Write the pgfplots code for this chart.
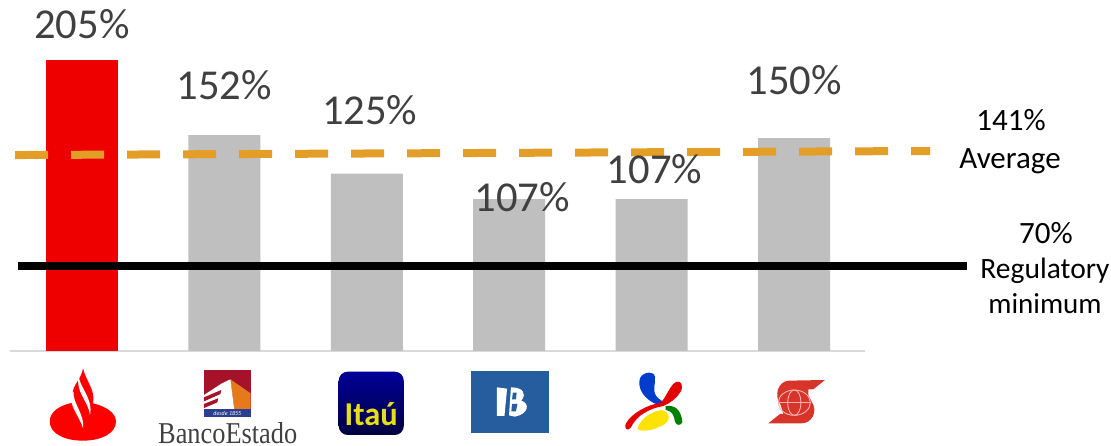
\documentclass[border=0pt]{standalone}
\usepackage{fontspec}
\setmainfont{Carlito}
\newfontfamily\logoserif{Liberation Serif}
\usepackage{pgfplots}
\pgfplotsset{compat=1.18}
\definecolor{barred}{HTML}{EE0000}
\definecolor{bargrey}{HTML}{BFBFBF}
\definecolor{avgor}{HTML}{E39E27}
\definecolor{labgrey}{HTML}{404040}
\definecolor{chileblue}{HTML}{265D9F}
\definecolor{bedred}{HTML}{A5122A}
\definecolor{bedor}{HTML}{E57A1C}
\definecolor{bedblue}{HTML}{2B3F8E}
\definecolor{scotia}{HTML}{D8352A}
\begin{document}
\begin{tikzpicture}
\path[use as bounding box] (0,0) rectangle (1111pt,446pt);
\begin{axis}[
  at={(0,0)},anchor=south west,
  scale only axis,width=1111pt,height=446pt,
  hide axis,clip=false,
  xmin=-0.5758,xmax=7.226,ymin=-66.9,ymax=247.2]
\addplot[draw=black!15!white,line width=2pt] coordinates {(-0.506,0) (5.5,0)};
\addplot[ybar,bar width=72pt,bar shift=0pt,fill=barred,draw=none] coordinates {(0,205)};
\addplot[ybar,bar width=72pt,bar shift=0pt,fill=bargrey,draw=none] coordinates {(1,152) (2,125) (3,107) (4,107) (5,150)};
\addplot[avgor,line width=8pt,dash pattern=on 33pt off 23pt] coordinates {(-0.47,138.0) (5.955,140.85)};
\addplot[black,line width=8pt] coordinates {(-0.449,59.9) (6.215,59.9)};
\node[anchor=base,text=labgrey,font=\fontsize{42.6}{44}\selectfont] at (axis cs:0,220.4) {205\%};
\node[anchor=base,text=labgrey,font=\fontsize{42.6}{44}\selectfont] at (axis cs:1,176.8) {152\%};
\node[anchor=base,text=labgrey,font=\fontsize{42.6}{44}\selectfont] at (axis cs:2.02,159.2) {125\%};
\node[anchor=base,text=labgrey,font=\fontsize{42.6}{44}\selectfont] at (axis cs:3.09,97.9) {107\%};
\node[anchor=base,text=labgrey,font=\fontsize{42.6}{44}\selectfont] at (axis cs:4.02,118.3) {107\%};
\node[anchor=base,text=labgrey,font=\fontsize{42.6}{44}\selectfont] at (axis cs:5,180.3) {150\%};
\end{axis}
% right-hand annotations, pixel coordinates
\begin{scope}[x=1pt,y=-1pt,yshift=446pt,every node/.style={anchor=base,text=black,font=\fontsize{31}{33}\selectfont,inner sep=0pt}]
\node at (1011,131) {141\%};
\node at (1010,169) {Average};
\node at (1046,244) {70\%};
\node[font=\fontsize{29.5}{33}\selectfont] at (1045,279) {Regulatory};
\node[font=\fontsize{29}{33}\selectfont] at (1045,314) {minimum};
\end{scope}
% logos, first four
\begin{scope}[x=1pt/2.613,y=-1pt/3,yshift=106pt]
% Santander
\fill[red] (130,245) .. controls (130,212) and (160,195) .. (190,188) -- (190,165)
  .. controls (188,135) and (212,120) .. (217,85) .. controls (225,125) and (250,150) .. (243,190)
  .. controls (280,200) and (303,220) .. (303,245) .. controls (303,280) and (265,302) .. (216,302)
  .. controls (168,302) and (130,280) .. (130,245) -- cycle;
\fill[white] (192,155) .. controls (190,190) and (222,225) .. (217,265) .. controls (210,235) and (183,200) .. (185,170) -- cycle;
\fill[white] (206,105) .. controls (205,140) and (245,175) .. (235,225) .. controls (232,185) and (195,155) .. (206,105) -- cycle;
% BancoEstado
\fill[bedred] (533,91) rectangle (655,230);
\fill[bedor] (602,118) -- (655,160) -- (655,208) -- (612,208) -- cycle;
\fill[white] (533,208) -- (533,165) -- (580,130) -- (602,118) -- (612,208) -- cycle;
\fill[bedred] (533,172) -- (578,150) -- (576,162) -- (533,184) -- cycle;
\fill[bedred] (533,192) -- (570,175) -- (568,187) -- (533,204) -- cycle;
\fill[bedblue] (533,208) rectangle (655,230);
\node[text=white,font=\itshape\fontsize{6}{6}\selectfont,inner sep=0pt] at (594,219) {desde 1855};
\node[anchor=base,text=black!75!white,inner sep=0pt,font=\logoserif] at (595,311) {\resizebox{139pt}{21pt}{BancoEstado}};
% Itau
\shade[top color=blue!60!black,bottom color=blue!25!black,rounded corners=9pt] (885,95) rectangle (1055,285);
\node[text=yellow!90!black,font=\bfseries,inner sep=0pt] at (970,222) {\resizebox{53pt}{23pt}{Itaú}};
% Banco de Chile
\fill[chileblue] (1231,93) rectangle (1435,279);
\fill[white] (1298,142) -- (1325,146) -- (1318,228) -- (1298,228) -- cycle;
\fill[white] (1335,142) .. controls (1365,142) and (1378,160) .. (1362,182) .. controls (1385,190) and (1382,222) .. (1345,230) -- (1330,226) -- cycle;
\fill[chileblue] (1340,158) -- (1350,158) -- (1348,178) -- (1338,178) -- cycle;
\fill[chileblue] (1338,192) -- (1352,192) -- (1348,214) -- (1336,214) -- cycle;
\end{scope}
% logos, last two
\begin{scope}[x=1pt/3,y=-1pt/3,xshift=550pt,yshift=106pt]
% Bci
\fill[blue!70!cyan!80!black] (268,125) .. controls (268,95) and (312,90) .. (315,110) .. controls (318,130) and (305,150) .. (320,170) .. controls (330,180) and (340,185) .. (345,192) -- (335,198) .. controls (300,190) and (265,160) .. (268,125) -- cycle;
\fill[red!90!black] (332,188) .. controls (350,170) and (360,135) .. (378,126) .. controls (392,120) and (402,135) .. (392,155) .. controls (380,175) and (360,190) .. (340,198) .. controls (300,205) and (260,225) .. (243,262) .. controls (235,275) and (220,268) .. (228,250) .. controls (245,220) and (290,195) .. (332,188) -- cycle;
\fill[green!50!black] (347,198) .. controls (385,192) and (395,225) .. (397,245) .. controls (395,258) and (378,258) .. (375,245) .. controls (372,225) and (365,212) .. (347,210) -- cycle;
\fill[yellow!85!orange] (262,265) .. controls (275,235) and (300,215) .. (335,210) .. controls (360,215) and (365,240) .. (340,255) .. controls (310,272) and (270,278) .. (262,265) -- cycle;
% Scotiabank
\fill[scotia] (825,120) -- (715,122) .. controls (685,125) and (670,165) .. (692,195) -- (700,222) -- (690,222) -- (655,250) -- (755,250) .. controls (785,250) and (805,215) .. (785,185) -- (775,165) -- (775,148) -- (790,148) -- cycle;
\draw[red!30!white,line width=0.9pt] (733,188) ellipse [x radius=48,y radius=38];
\draw[red!30!white,line width=0.9pt] (733,188) ellipse [x radius=20,y radius=38];
\draw[red!30!white,line width=0.9pt] (685,188) -- (781,188);
\end{scope}
\end{tikzpicture}
\end{document}
